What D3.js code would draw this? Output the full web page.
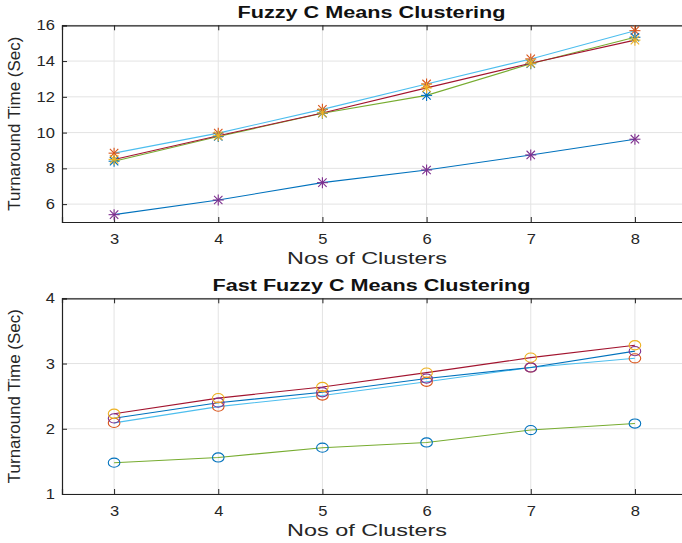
<!DOCTYPE html>
<html>
<head>
<meta charset="utf-8">
<script src="https://cdn.jsdelivr.net/npm/d3@7"></script>
<style>
  body { margin: 0; background: #fff; }
  svg { display: block; font-family: "Liberation Sans", Arial, sans-serif; }
</style>
</head>
<body>
<div id="chart"></div>
<script>
// cluster counts on the x axis
const clusters = [3, 4, 5, 6, 7, 8]

// Fuzzy C Means (top) - turnaround time in seconds
const fcmA = [5.41, 6.23, 7.20, 7.91, 8.75, 9.63]
const fcmB = [8.85, 9.97, 11.30, 12.72, 14.12, 15.70]
const fcmC = [8.50, 9.82, 11.10, 12.50, 13.88, 15.17]
const fcmD = [8.40, 9.78, 11.08, 12.08, 13.85, 15.33]

// Fast Fuzzy C Means (bottom)
const ffcmA = [2.23, 2.47, 2.64, 2.86, 3.09, 3.28]
const ffcmB = [2.16, 2.40, 2.56, 2.77, 2.94, 3.19]
const ffcmC = [2.09, 2.34, 2.51, 2.72, 2.94, 3.08]
const ffcmD = [1.48, 1.56, 1.71, 1.79, 1.98, 2.08]

const topTicks = [6, 8, 10, 12, 14, 16]
const bottomTicks = [1, 2, 3, 4]

const svg = d3.select("#chart")
    .append("svg")
    .attr("width", 682)
    .attr("height", 543)

const panels = [
    {
        title: "Fuzzy C Means Clustering", titleLen: 268,
        top: 25.3, bottom: 222, domain: [5, 16], ticks: topTicks, marker: "star",
        series: [
            { values: fcmA, line: "#0072BD", mark: "#7E2F8E" },
            { values: fcmB, line: "#4DBEEE", mark: "#D95319" },
            { values: fcmD, line: "#77AC30", mark: "#0072BD" },
            { values: fcmC, line: "#A2142F", mark: "#EDB120" }
        ]
    },
    {
        title: "Fast Fuzzy C Means Clustering", titleLen: 318,
        top: 298.3, bottom: 494, domain: [1, 4], ticks: bottomTicks, marker: "circle",
        series: [
            { values: ffcmD, line: "#77AC30", mark: "#0072BD" },
            { values: ffcmC, line: "#4DBEEE", mark: "#D95319" },
            { values: ffcmB, line: "#0072BD", mark: "#7E2F8E" },
            { values: ffcmA, line: "#A2142F", mark: "#EDB120" }
        ]
    }
]

const left = 62, right = 687

panels.forEach((p, pi) => {
    const x = d3.scaleLinear().domain([2.5, 8.5]).range([left, right])
    const y = d3.scaleLinear().domain(p.domain).range([p.bottom, p.top])
    const g = svg.append("g")

    // grid
    g.selectAll(".vgrid").data(clusters).enter().append("line")
        .attr("x1", d => x(d)).attr("x2", d => x(d))
        .attr("y1", p.top).attr("y2", p.bottom)
        .attr("stroke", "#e3e3e3").attr("stroke-width", 1)
    g.selectAll(".hgrid").data(p.ticks).enter().append("line")
        .attr("y1", d => y(d)).attr("y2", d => y(d))
        .attr("x1", left).attr("x2", right)
        .attr("stroke", "#e3e3e3").attr("stroke-width", 1)

    // axes with inward ticks
    const tick = 5
    const fmt = d3.format("d")
    g.append("g").attr("class", "xax").attr("transform", "translate(0," + p.bottom + ")")
        .call(d3.axisBottom(x).tickValues(clusters).tickSize(-tick).tickPadding(12).tickFormat(fmt))
    g.append("g").attr("transform", "translate(0," + p.top + ")")
        .call(d3.axisTop(x).tickValues(clusters).tickSize(-tick).tickFormat(""))
    g.append("g").attr("class", "yax").attr("transform", "translate(" + left + ",0)")
        .call(d3.axisLeft(y).tickValues(p.ticks).tickSize(-tick).tickPadding(6).tickFormat(fmt))
    g.append("g").attr("transform", "translate(" + right + ",0)")
        .call(d3.axisRight(y).tickValues(p.ticks).tickSize(-tick).tickFormat(""))

    g.selectAll(".domain").attr("stroke", "#222").attr("stroke-width", 1.2)
    g.selectAll(".tick line").attr("stroke", "#222")
    g.selectAll(".tick text").attr("font-size", 14).attr("fill", "#262626")
        .attr("font-family", "Liberation Sans, Arial, sans-serif")
        .attr("transform", "scale(1.18,1)")

    // lines
    const line = d3.line().x((d, i) => x(clusters[i])).y(d => y(d))
    p.series.forEach(s => {
        g.append("path").datum(s.values)
            .attr("d", line)
            .attr("fill", "none")
            .attr("stroke", s.line)
            .attr("stroke-width", 1.1)
    })

    // markers
    p.series.forEach(s => {
        const m = g.append("g").selectAll("g").data(s.values).enter().append("g")
            .attr("transform", (d, i) => "translate(" + x(clusters[i]) + "," + y(d) + ")")
        if (p.marker === "star") {
            const r = 5.5, d = 4.2
            const segs = [[-r, 0, r, 0], [0, -r, 0, r], [-d, -d, d, d], [-d, d, d, -d]]
            segs.forEach(sg => {
                m.append("line")
                    .attr("x1", sg[0]).attr("y1", sg[1]).attr("x2", sg[2]).attr("y2", sg[3])
                    .attr("stroke", s.mark).attr("stroke-width", 1.1)
            })
        } else {
            m.append("ellipse")
                .attr("rx", 5.8).attr("ry", 4.6)
                .attr("fill", "none")
                .attr("stroke", s.mark).attr("stroke-width", 1.1)
        }
    })

    // labels
    svg.append("text")
        .attr("x", (left + right) / 2 - 0.5 * p.titleLen - 3).attr("y", p.top - 7)
        .attr("font-size", 16).attr("font-weight", "bold")
        .attr("fill", "#111")
        .attr("textLength", p.titleLen).attr("lengthAdjust", "spacingAndGlyphs")
        .text(p.title)

    svg.append("text")
        .attr("x", 287).attr("y", p.bottom + 42)
        .attr("font-size", 17)
        .attr("fill", "#262626")
        .attr("textLength", 160).attr("lengthAdjust", "spacingAndGlyphs")
        .text("Nos of Clusters")

    svg.append("text")
        .attr("transform", "translate(20," + ((p.top + p.bottom) / 2) + ") rotate(-90)")
        .attr("text-anchor", "middle")
        .attr("font-size", 17)
        .attr("fill", "#262626")
        .text("Turnaround Time (Sec)")
})
</script>
</body>
</html>
